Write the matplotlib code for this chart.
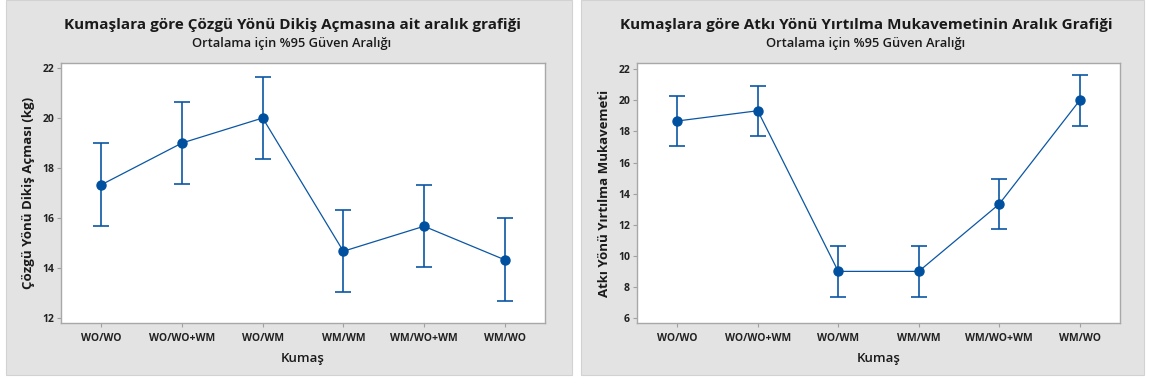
import numpy as np
import matplotlib.pyplot as plt
from matplotlib.patches import Rectangle

plt.rcParams['font.family'] = ['Open Sans', 'DejaVu Sans']

kumas = ["WO/WO", "WO/WO+WM", "WO/WM", "WM/WM", "WM/WO+WM", "WM/WO"]

# Çözgü yönü dikiş açması (kg): ortalama ve %95 güven aralığı
cozgu_ort = [17.33, 19.00, 20.00, 14.67, 15.67, 14.33]
cozgu_alt = [15.68, 17.35, 18.35, 13.02, 14.02, 12.68]
cozgu_ust = [18.98, 20.65, 21.65, 16.32, 17.32, 15.98]

# Atkı yönü yırtılma mukavemeti: ortalama ve %95 güven aralığı
atki_ort = [18.67, 19.33, 9.00, 9.00, 13.33, 20.00]
atki_alt = [17.05, 17.72, 7.38, 7.38, 11.72, 18.38]
atki_ust = [20.28, 20.95, 10.62, 10.62, 14.95, 21.62]

W, H = 1149, 383
fig = plt.figure(figsize=(W / 100, H / 100), dpi=100)
fig.patch.set_facecolor("white")

blue = "#0B56A4"
grey = "#E3E3E3"

# grey panel behind each chart
for x0, x1 in [(6, 572), (581, 1144)]:
    fig.patches.append(Rectangle((x0 / W, (H - 375) / H), (x1 - x0) / W, 375 / H,
                                 transform=fig.transFigure, facecolor=grey,
                                 edgecolor="#D2D2D2", linewidth=0.8, zorder=-5))


def aralik(ax, ort, alt, ust, ylim, yticks, ylabel, title, cx):
    x = np.arange(len(kumas))
    ort = np.array(ort)
    err = [ort - np.array(alt), np.array(ust) - ort]
    ax.plot(x, ort, color=blue, lw=0.9, zorder=2)
    ax.errorbar(x, ort, yerr=err, fmt="none", ecolor=blue, elinewidth=1.2,
                capsize=6, capthick=1.2, zorder=3)
    ax.plot(x, ort, "o", color="#0050A0", ms=6.5, zorder=4)
    ax.set_xlim(-0.5, 5.5)
    ax.set_ylim(*ylim)
    ax.set_yticks(yticks)
    ax.set_xticks(x)
    ax.set_xticklabels(kumas, fontsize=7.5, fontweight="bold", color="#222222")
    ax.tick_params(axis="y", labelsize=7.5, colors="#A0A0A0", labelcolor="#222222",
                   length=3, width=0.8, pad=2)
    ax.tick_params(axis="x", colors="#A0A0A0", labelcolor="#222222",
                   length=3, width=0.8, pad=4)
    for lab in ax.get_yticklabels():
        lab.set_fontweight("bold")
    for s in ax.spines.values():
        s.set_color("#A8A8A8")
        s.set_linewidth(1.0)
    ax.set_xlabel("Kumaş", fontsize=9.5, fontweight="semibold", color="#1A1A1A", labelpad=6)
    ax.set_ylabel(ylabel, fontsize=9.5, fontweight="bold", color="#1A1A1A", labelpad=5)
    fig.text(cx / W, 1 - 25 / H, title, ha="center", va="center",
             fontsize=11, fontweight="bold", color="#1A1A1A")
    fig.text(cx / W, 1 - 43 / H, "Ortalama için %95 Güven Aralığı", ha="center",
             va="center", fontsize=9.3, fontweight="semibold", color="#1A1A1A")


ax1 = fig.add_axes([61 / W, (H - 323) / H, (545 - 61) / W, (323 - 63) / H])
aralik(ax1, cozgu_ort, cozgu_alt, cozgu_ust, (11.8, 22.2), np.arange(12, 23, 2),
       "Çözgü Yönü Dikiş Açması (kg)",
       "Kumaşlara göre Çözgü Yönü Dikiş Açmasına ait aralık grafiği", 292)

ax2 = fig.add_axes([637 / W, (H - 323) / H, (1120 - 637) / W, (323 - 63) / H])
aralik(ax2, atki_ort, atki_alt, atki_ust, (5.68, 22.4), np.arange(6, 23, 2),
       "Atkı Yönü Yırtılma Mukavemeti",
       "Kumaşlara göre Atkı Yönü Yırtılma Mukavemetinin Aralık Grafiği", 866)

fig.savefig("out.png", dpi=100)
